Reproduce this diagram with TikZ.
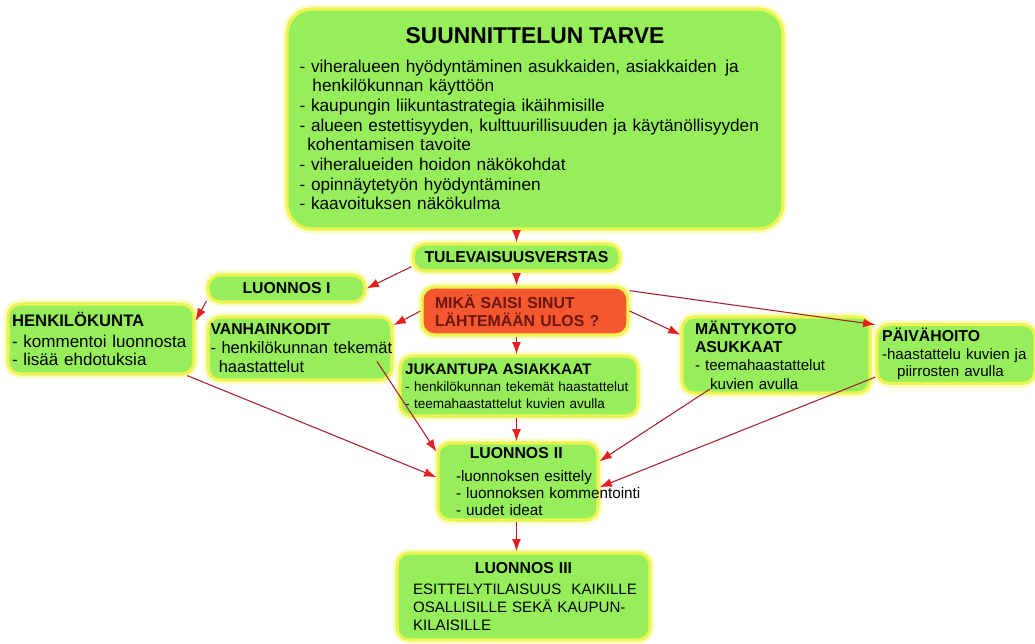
\documentclass[tikz,border=0pt]{standalone}
\usepackage{fontspec}
\setmainfont{Liberation Sans}
\usetikzlibrary{arrows.meta}
\definecolor{leaf}{RGB}{150,238,90}
\definecolor{glow}{RGB}{236,244,80}
\definecolor{halo}{RGB}{252,252,200}
\definecolor{hotred}{RGB}{245,88,48}
\definecolor{hottext}{RGB}{105,22,12}
\definecolor{wire}{RGB}{165,30,45}
\definecolor{tip}{RGB}{232,30,30}

\begin{document}
\begin{tikzpicture}[x=0.02cm, y=-0.02cm,
    box/.style={draw=glow, line width=1.8pt, fill=leaf, rounded corners=7pt,
      preaction={draw=halo, line width=5pt}, align=left, inner ysep=2pt},
    hot/.style={box, fill=hotred, text=hottext},
    arr/.style={draw=wire, line width=0.6pt, -{Latex[length=7pt,width=5pt,color=tip]}}]
    \useasboundingbox (0,0) rectangle (1035,644);

    \node[box, rounded corners=14pt, text width=9.42cm, inner xsep=0.25cm, minimum height=4.4cm,
      font=\fontsize{9.8}{11.2}\selectfont] at (535,119) (tarve)
      {\makebox[\linewidth][c]{\fontsize{13}{15}\selectfont\bfseries SUUNNITTELUN TARVE}\\[5pt]
       - viheralueen hyödyntäminen asukkaiden, asiakkaiden\, ja\\
       \hspace*{0.75em}henkilökunnan käyttöön\\
       - kaupungin liikuntastrategia ikäihmisille\\
       \mbox{- alueen estettisyyden, kulttuurillisuuden ja käytänöllisyyden}\\
       \hspace*{0.45em}kohentamisen tavoite\\
       - viheralueiden hoidon näkökohdat\\
       - opinnäytetyön hyödyntäminen\\
       - kaavoituksen näkökulma};
    \node[box, align=center, minimum width=4.14cm, minimum height=0.54cm,
      font=\fontsize{9}{10}\selectfont\bfseries] at (516.5,257.5) (tulev) {TULEVAISUUSVERSTAS};
    \node[box, align=center, minimum width=3.14cm, minimum height=0.54cm,
      font=\fontsize{9}{10}\selectfont\bfseries] at (286.5,288.5) (luon1) {LUONNOS I};
    \node[box, text width=3.56cm, inner xsep=0.08cm, minimum height=1.4cm,
      font=\fontsize{9.7}{10}\selectfont] at (101,339) (henk)
      {{\fontsize{9.5}{10}\selectfont\bfseries HENKILÖKUNTA}\\[2pt]
       - kommentoi luonnosta\\
       - lisää ehdotuksia};
    \node[box, text width=3.58cm, inner xsep=0.05cm, minimum height=1.26cm,
      font=\fontsize{9.4}{10.8}\selectfont] at (300,348.5) (vanh)
      {{\fontsize{9}{10}\selectfont\bfseries VANHAINKODIT}\\
       \mbox{- henkilökunnan tekemät}\\
       \hspace*{0.5em}haastattelut};
    \node[hot, text width=3.6cm, inner xsep=0.26cm, minimum height=0.96cm,
      font=\fontsize{9}{10.4}\selectfont\bfseries] at (525,311) (mika)
      {MIKÄ SAISI SINUT\\
       LÄHTEMÄÄN ULOS ?};
    \node[box, text width=4.56cm, inner xsep=0.1cm, minimum height=1.2cm,
      font=\fontsize{7.7}{9.8}\selectfont] at (519,386) (juk)
      {{\fontsize{8.7}{10}\selectfont\bfseries JUKANTUPA ASIAKKAAT}\\
       \mbox{- henkilökunnan tekemät haastattelut}\\
       - teemahaastattelut kuvien avulla};
    \node[box, text width=3.24cm, inner xsep=0.26cm, minimum height=1.52cm,
      font=\fontsize{8.6}{10.5}\selectfont] at (776,355) (mant)
      {{\fontsize{9}{10}\selectfont\bfseries MÄNTYKOTO}\\
       {\fontsize{9}{10}\selectfont\bfseries ASUKKAAT}\\
       - teemahaastattelut\\
       \hspace*{1em}kuvien avulla};
    \node[box, text width=2.96cm, inner xsep=0.1cm, minimum height=1.16cm,
      font=\fontsize{8.6}{10}\selectfont] at (956,354) (paiv)
      {{\fontsize{9}{10}\selectfont\bfseries PÄIVÄHOITO}\\
       \mbox{-haastattelu kuvien ja}\\
       \hspace*{1em}piirrosten avulla};
    \node[box, text width=2.48cm, inner xsep=0.36cm, minimum height=1.54cm,
      font=\fontsize{8.7}{9.6}\selectfont] at (518,481.5) (luo2)
      {\hspace*{0.9em}{\fontsize{9}{10}\selectfont\bfseries LUONNOS II}\\[3.5pt]
       \mbox{-luonnoksen esittely}\\
       \mbox{- luonnoksen kommentointi}\\
       \mbox{- uudet ideat}};
    \node[box, text width=4.42cm, inner xsep=0.32cm, minimum height=1.74cm,
      font=\fontsize{8.6}{10.2}\selectfont] at (523.5,596.5) (luo3)
      {\makebox[\linewidth][c]{\fontsize{9}{10}\selectfont\bfseries LUONNOS III}\\[2pt]
       \mbox{ESITTELYTILAISUUS\ \ KAIKILLE}\\
       \mbox{OSALLISILLE SEKÄ KAUPUN-}\\
       KILAISILLE};

    \draw[arr] (tulev.north |- tarve.south) -- (tulev.north);
    \draw[arr] (tulev.185) -- (luon1.east);
    \draw[arr] (luon1.189) -- (henk.11);
    \draw[arr] (tulev.south) -- (tulev.south |- mika.north);
    \draw[arr] (mika.west) -- (vanh.14);
    \draw[arr] (tulev.south |- mika.south) -- (tulev.south |- juk.north);
    \draw[arr] (mika.east) -- (mant.168);
    \draw[arr] (mika.11) -- (paiv.160);
    \draw[arr] (henk.-23) -- (luo2.177);
    \draw[arr] ([shift={(77,13)}]vanh.center) -- (luo2.160);
    \draw[arr] (tulev.south |- juk.south) -- (tulev.south |- luo2.north);
    \draw[arr] ([shift={(-66,34)}]mant.center) -- (luo2.14);
    \draw[arr] (paiv.196) -- (luo2.-4);
    \draw[arr] (tulev.south |- luo2.south) -- (tulev.south |- luo3.north);
\end{tikzpicture}
\end{document}
